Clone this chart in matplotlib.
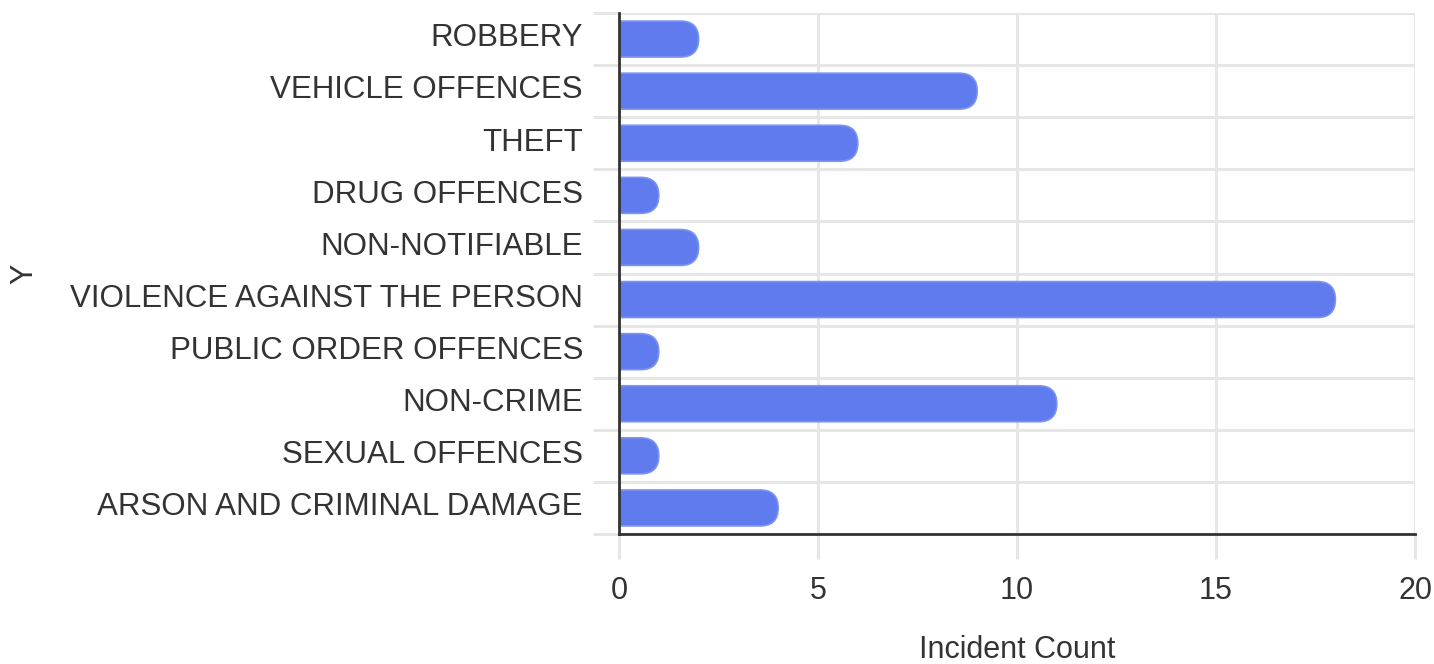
import matplotlib
matplotlib.use("Agg")
import matplotlib.pyplot as plt
import matplotlib.transforms as mtransforms
from matplotlib.patches import FancyBboxPatch

# categories listed bottom -> top
categories = [
    "ARSON AND CRIMINAL DAMAGE",
    "SEXUAL OFFENCES",
    "NON-CRIME",
    "PUBLIC ORDER OFFENCES",
    "VIOLENCE AGAINST THE PERSON",
    "NON-NOTIFIABLE",
    "DRUG OFFENCES",
    "THEFT",
    "VEHICLE OFFENCES",
    "ROBBERY",
]
counts = [4, 1, 11, 1, 18, 2, 1, 6, 9, 2]
x_ticks = [0, 5, 10, 15, 20]

plt.rcParams['font.family'] = ['Liberation Sans', 'DejaVu Sans']

W, H = 1434, 664
fig = plt.figure(figsize=(W / 100, H / 100), dpi=100)
left, right, top, bottom = 619, 1415, 13, 534
ax = fig.add_axes([left / W, 1 - bottom / H, (right - left) / W, (bottom - top) / H])

bar_color = "#5f7bee"
grid_color = "#e6e6e6"
text_color = "#333333"

ax.set_xlim(0, 20)
ax.set_ylim(-0.5, len(categories) - 0.5)

# pixel scale for rounding
px_x = (right - left) / 20.0
px_y = (bottom - top) / len(categories)
bar_h = 0.69
radius_px = bar_h * px_y / 2
r_data = radius_px / px_x

bars = ax.barh(range(len(categories)), counts, height=bar_h, color="none")
for b in bars:
    x0, y0 = b.get_x(), b.get_y()
    w, h = b.get_width(), b.get_height()
    b.remove()
    p = FancyBboxPatch((x0 - 1, y0), w + 1, h,
                       boxstyle="round,pad=0,rounding_size=%f" % r_data,
                       mutation_aspect=px_x / px_y,
                       facecolor=bar_color, edgecolor="#7d93f0", linewidth=1.2,
                       zorder=3)
    ax.add_patch(p)

ax.set_yticks(range(len(categories)))
ax.set_yticklabels(categories)
ax.set_yticks([i - 0.5 for i in range(len(categories) + 1)], minor=True)
ax.set_xticks(x_ticks)

ax.grid(True, axis="x", which="major", color=grid_color, linewidth=2.2, zorder=0)
ax.grid(True, axis="y", which="minor", color=grid_color, linewidth=2.2, zorder=0)
ax.tick_params(axis="y", which="major", length=0, pad=26, labelsize=22.5, labelcolor=text_color)
ax.tick_params(axis="y", which="minor", length=19, width=2.2, color=grid_color)
ax.tick_params(axis="x", which="major", length=18, width=2.2, color=grid_color,
               pad=12, labelsize=22, labelcolor=text_color)

# nudge category labels up a bit
shift = mtransforms.ScaledTranslation(0, 3 / 72, fig.dpi_scale_trans)
for lab in ax.get_yticklabels():
    lab.set_transform(lab.get_transform() + shift)

for s in ["top", "right"]:
    ax.spines[s].set_visible(False)
for s in ["left", "bottom"]:
    ax.spines[s].set_color("#333333")
    ax.spines[s].set_linewidth(2)
    ax.spines[s].set_zorder(4)

ax.set_xlabel("Incident Count", fontsize=22, color=text_color, labelpad=21)
ax.set_ylabel("Y", fontsize=22, color=text_color)
ax.yaxis.set_label_coords(-580 / (right - left), 0.5)

fig.savefig("out.png", dpi=100)
